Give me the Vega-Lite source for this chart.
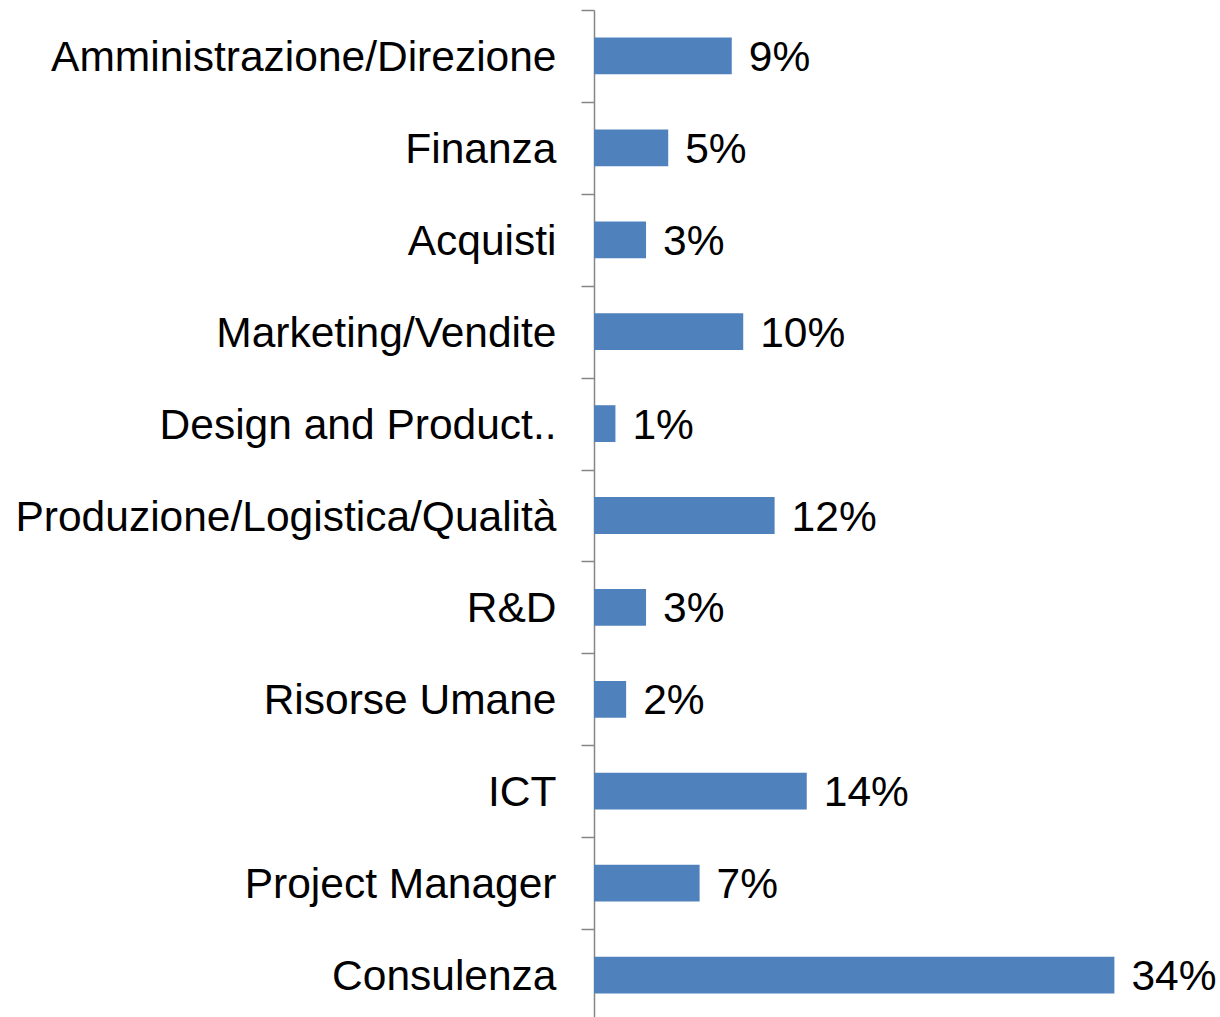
{
  "$schema": "https://vega.github.io/schema/vega-lite/v6.json",
  "autosize": {"type": "none"},
  "width": 626,
  "height": 1011,
  "padding": {"left": 594, "top": 10, "right": 0, "bottom": -4},
  "background": "white",
  "config": {"view": {"stroke": null}, "font": "Liberation Sans"},
  "data": {
    "values": [
      {"cat": "Amministrazione/Direzione", "v": 9},
      {"cat": "Finanza", "v": 4.85},
      {"cat": "Acquisti", "v": 3.4},
      {"cat": "Marketing/Vendite", "v": 9.75},
      {"cat": "Design and Product..", "v": 1.4},
      {"cat": "Produzione/Logistica/Qualità", "v": 11.8},
      {"cat": "R&D", "v": 3.4},
      {"cat": "Risorse Umane", "v": 2.1},
      {"cat": "ICT", "v": 13.9},
      {"cat": "Project Manager", "v": 6.9},
      {"cat": "Consulenza", "v": 34}
    ]
  },
  "encoding": {
    "y": {
      "field": "cat",
      "type": "nominal",
      "sort": null,
      "scale": {"paddingInner": 0.6, "paddingOuter": 0.3},
      "axis": {
        "title": null,
        "domainColor": "#868686",
        "domainWidth": 1.5,
        "tickColor": "#868686",
        "tickWidth": 1.5,
        "tickSize": 13,
        "tickOffset": -45.95,
        "labelOffset": 47.5,
        "labelFont": "Liberation Sans",
        "labelFontSize": 42.5,
        "labelColor": "black",
        "labelPadding": 25,
        "labelLimit": 700
      }
    },
    "x": {
      "field": "v",
      "type": "quantitative",
      "scale": {"domain": [0, 40.9], "nice": false},
      "axis": null
    }
  },
  "layer": [
    {"mark": {"type": "bar", "color": "#4F81BD"}},
    {
      "mark": {"type": "text", "align": "left", "baseline": "middle", "dx": 17, "dy": 2, "fontSize": 42.5, "font": "Liberation Sans", "color": "black"},
      "encoding": {"text": {"field": "label"}},
      "transform": [{"calculate": "format(round(datum.v), 'd') + '%'", "as": "label"}]
    }
  ]
}
